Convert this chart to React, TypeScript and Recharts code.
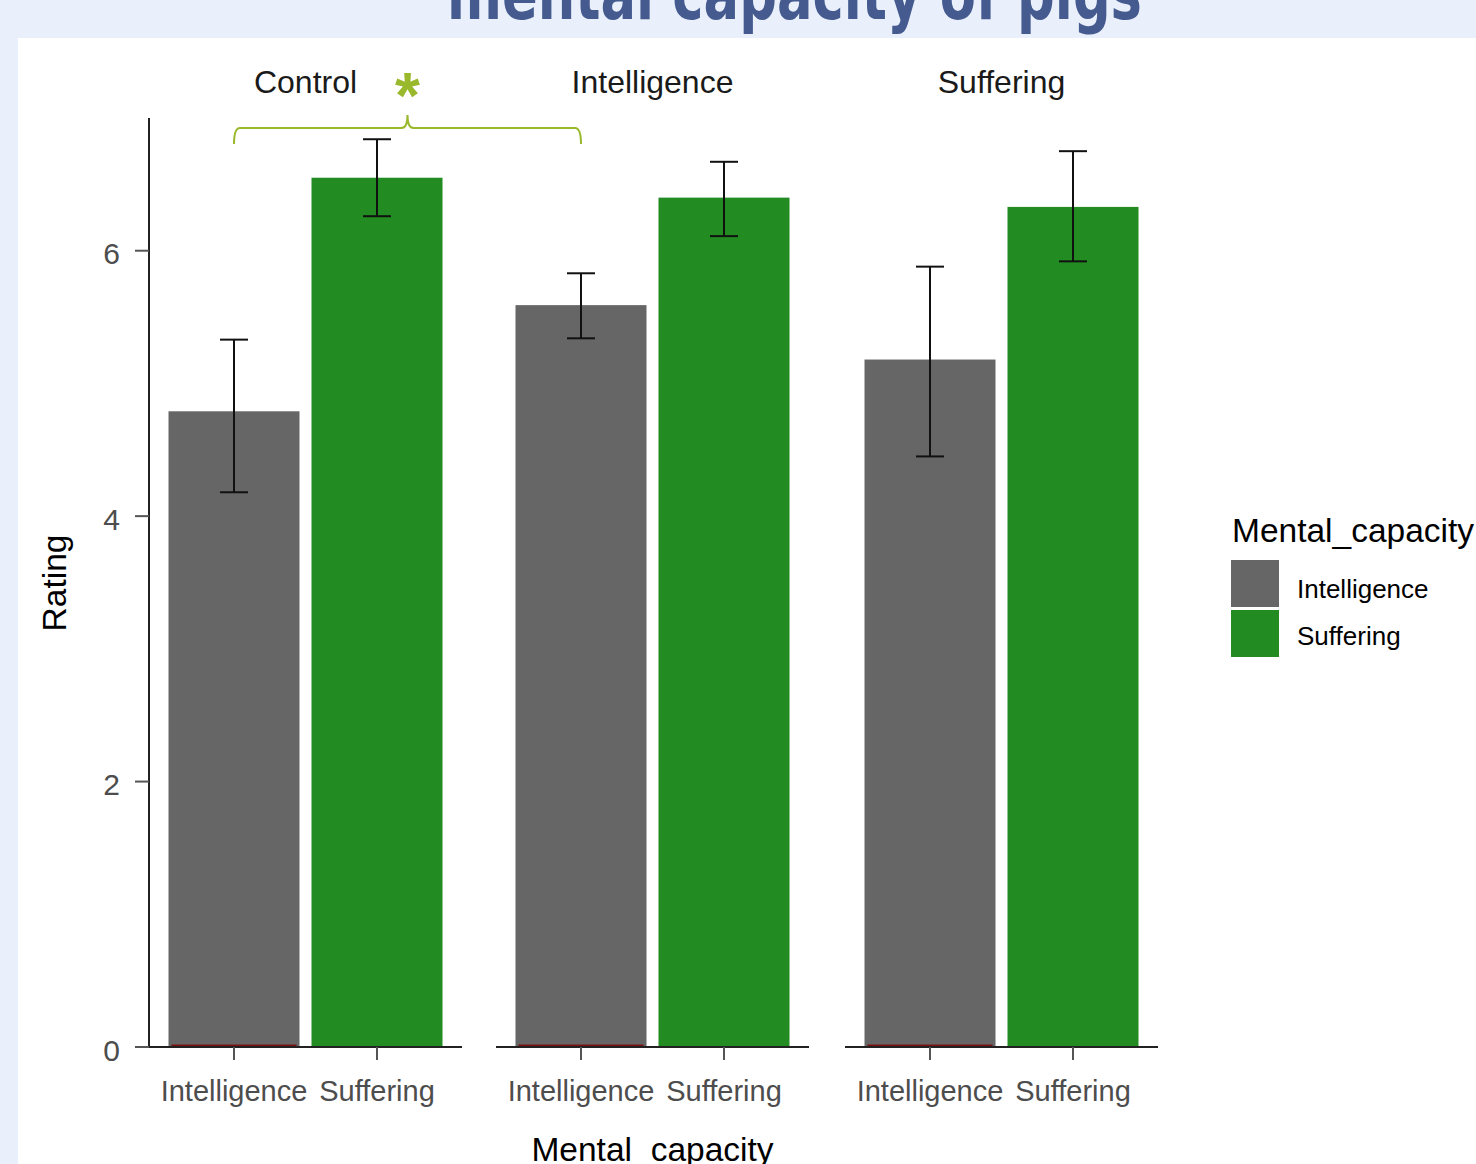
import React from 'react';
import { BarChart, Bar, XAxis, YAxis, ErrorBar, Cell } from 'recharts';

// ---------- data ----------
const facets = ['Control', 'Intelligence', 'Suffering'];
const capacities = ['Intelligence', 'Suffering'];
const capacityColors = ['#666666', '#228B22'];
const meanRatings = [
  [4.79, 6.55],
  [5.59, 6.40],
  [5.18, 6.33],
];
const lowerCI = [
  [4.18, 6.26],
  [5.34, 6.11],
  [4.45, 5.92],
];
const upperCI = [
  [5.33, 6.84],
  [5.83, 6.67],
  [5.88, 6.75],
];
const yTicks = [0, 2, 4, 6];
const yDomain = [0, 7];
const titleText = 'mental capacity of pigs';
const yTitle = 'Rating';
const xTitle = 'Mental_capacity';
const legendTitle = 'Mental_capacity';
const sigLabel = '*';

// ---------- layout ----------
const W = 1476;
const H = 1164;
const PLOT_TOP = 118;
const PLOT_BOTTOM = 1047;
const PANEL_LEFTS = [149, 496, 845];
const PANEL_W = 313;
const X_PAD = 13.5;
const X_AXIS_H = 90;
const Y_AXIS_W = 131;
const BAND = (PANEL_W - 2 * X_PAD) / 2;
const FONT = '"Liberation Sans", Arial, Helvetica, sans-serif';
const SIG_COLOR = '#9ab82c';

const barCenter = (p: number, c: number) => PANEL_LEFTS[p] + X_PAD + BAND * (c + 0.5);

const BarShape = (props: any) => {
  const { x, y, width, height, index } = props;
  const fill = capacityColors[index];
  return (
    <g>
      <rect x={x} y={y} width={width} height={height} fill={fill} />
      {index === 0 && height > 2 ? (
        <line x1={x + 3} x2={x + width - 3} y1={y + height - 1.5} y2={y + height - 1.5} stroke="#7a1010" strokeWidth={2} />
      ) : null}
    </g>
  );
};

function Panel({ idx }: { idx: number }) {
  const data = capacities.map((c, i) => ({
    capacity: c,
    rating: meanRatings[idx][i],
    err: [meanRatings[idx][i] - lowerCI[idx][i], upperCI[idx][i] - meanRatings[idx][i]],
  }));
  const showY = idx === 0;
  const left = PANEL_LEFTS[idx] - (showY ? Y_AXIS_W : 0);
  const width = PANEL_W + (showY ? Y_AXIS_W : 0);
  return (
    <div style={{ position: 'absolute', left, top: PLOT_TOP }}>
      <BarChart
        width={width}
        height={PLOT_BOTTOM - PLOT_TOP + X_AXIS_H}
        data={data}
        margin={{ top: 0, right: 0, bottom: 0, left: 0 }}
      >
        <XAxis
          dataKey="capacity"
          padding={{ left: X_PAD, right: X_PAD }}
          height={X_AXIS_H}
          axisLine={{ stroke: '#222', strokeWidth: 2 }}
          tickLine={{ stroke: '#555', strokeWidth: 2 }}
          tickSize={13}
          tickMargin={20}
          interval={0}
          tick={{ fontSize: 29, fill: '#4d4d4d', fontFamily: FONT }}
        />
        <YAxis
          hide={!showY}
          width={Y_AXIS_W}
          domain={yDomain}
          ticks={yTicks}
          allowDataOverflow
          axisLine={{ stroke: '#222', strokeWidth: 2 }}
          tickLine={{ stroke: '#555', strokeWidth: 2 }}
          tickSize={14}
          tickMargin={15}
          tick={{ fontSize: 30, fill: '#4d4d4d', fontFamily: FONT, dy: 3 }}
        />
        <Bar dataKey="rating" barSize={131} isAnimationActive={false} shape={BarShape}>
          {data.map((d, i) => (
            <Cell key={i} fill={capacityColors[i]} />
          ))}
          <ErrorBar dataKey="err" direction="y" width={14} stroke="#111" strokeWidth={2} isAnimationActive={false} />
        </Bar>
      </BarChart>
    </div>
  );
}

export default function App() {
  const bx1 = barCenter(0, 0);
  const bx2 = barCenter(1, 0);
  const bm = (bx1 + bx2) / 2;
  const by = 128;
  return (
    <div style={{ position: 'absolute', left: 0, top: 0, width: W, height: H, background: '#e9f0fc', overflow: 'hidden', fontFamily: FONT }}>
      <div style={{ position: 'absolute', left: 18, top: 38, width: W - 18, height: H - 38, background: '#ffffff' }} />
      {facets.map((f, i) => (
        <Panel key={f} idx={i} />
      ))}
      <svg width={W} height={H} style={{ position: 'absolute', left: 0, top: 0, pointerEvents: 'none' }}>
        <text
          x={447}
          y={19}
          textLength={695}
          lengthAdjust="spacingAndGlyphs"
          fontFamily='"Liberation Sans Narrow", "DejaVu Sans Condensed", Arial, sans-serif'
          fontWeight="bold"
          fontSize={72}
          fill="#455b8f"
        >
          {titleText}
        </text>
        {facets.map((f, i) => (
          <text key={f} x={PANEL_LEFTS[i] + PANEL_W / 2} y={93} textAnchor="middle" fontSize={32} fill="#1a1a1a" fontFamily={FONT}>
            {f}
          </text>
        ))}
        <path
          d={`M${bx1},${by + 16} Q${bx1},${by} ${bx1 + 6},${by} L${bm - 6},${by} Q${bm},${by} ${bm},${by - 13} Q${bm},${by} ${bm + 6},${by} L${bx2 - 6},${by} Q${bx2},${by} ${bx2},${by + 16}`}
          fill="none"
          stroke={SIG_COLOR}
          strokeWidth={2}
        />
        <text x={bm} y={118} textAnchor="middle" fontSize={64} fontWeight="bold" fill={SIG_COLOR} fontFamily={FONT}>
          {sigLabel}
        </text>
        <text x={66} y={583} transform="rotate(-90 66 583)" textAnchor="middle" fontSize={33.5} fill="#000" fontFamily={FONT}>
          {yTitle}
        </text>
        <text x={PANEL_LEFTS[1] + PANEL_W / 2} y={1161} textAnchor="middle" fontSize={33.5} fill="#000" fontFamily={FONT}>
          {xTitle}
        </text>
        <text x={1232} y={542} fontSize={33.5} fill="#000" fontFamily={FONT}>
          {legendTitle}
        </text>
        {capacities.map((c, i) => (
          <g key={c}>
            <rect x={1231} y={560 + i * 50} width={48} height={47} fill={capacityColors[i]} />
            <text x={1297} y={598 + i * 47} fontSize={26} fill="#000" fontFamily={FONT}>
              {c}
            </text>
          </g>
        ))}
      </svg>
    </div>
  );
}
